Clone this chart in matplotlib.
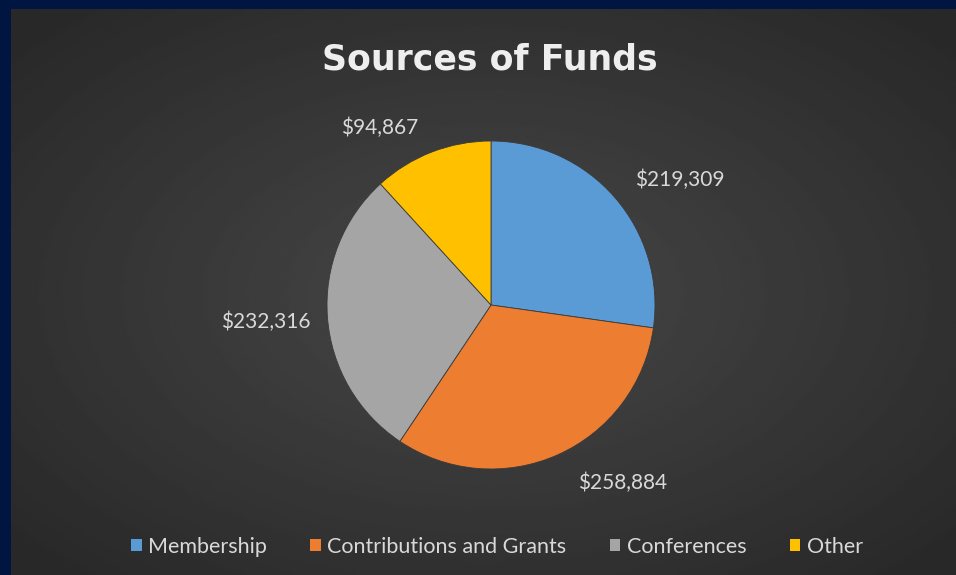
import numpy as np
import matplotlib
matplotlib.use('Agg')
import matplotlib.pyplot as plt

# data
categories = ['Membership', 'Contributions and Grants', 'Conferences', 'Other']
amounts = [219309, 258884, 232316, 94867]
labels = ['$219,309', '$258,884', '$232,316', '$94,867']
colors = ['#5b9bd5', '#ed7d31', '#a5a5a5', '#ffc000']

W, H = 956, 575
fig = plt.figure(figsize=(W / 100, H / 100), dpi=100)
fig.patch.set_facecolor('#001540')

# inner panel with radial gradient
bg = fig.add_axes([11 / W, 0, (W - 11) / W, (H - 9) / H])
yy, xx = np.mgrid[0:200, 0:300]
r = np.sqrt(((xx - 150) / 150.0) ** 2 + ((yy - 100) / 100.0) ** 2)
shade = np.clip(0.28 - 0.09 * r, 0.16, 0.28)
bg.imshow(shade, cmap='gray', vmin=0, vmax=1, aspect='auto', extent=[0, 1, 0, 1])
bg.set_axis_off()

plt.rcParams['font.family'] = ['Lato', 'DejaVu Sans']

fig.text(490 / W, 1 - 59 / H, 'Sources of Funds', ha='center', va='center',
         fontsize=25, fontweight='bold', color='#eeeeee', family='DejaVu Sans')

# pie axes: centre (491, 305), radius 164 px
R = 164
cx, cy = 491, 305
ax = fig.add_axes([(cx - R) / W, (H - cy - R) / H, 2 * R / W, 2 * R / H])
ax.set_facecolor('none')
wedges, texts = ax.pie(amounts, colors=colors, startangle=90, counterclock=False,
                       labels=labels, labeldistance=1.35,
                       wedgeprops=dict(edgecolor='#3a3a3a', linewidth=0.6),
                       textprops=dict(color='#d9d9d9', fontsize=15))
ax.set_xlim(-1, 1)
ax.set_ylim(-1, 1)
ax.set_aspect('equal')
ax.set_axis_off()

# nudge labels to where the best-fit placement puts them
nudges = [(0.13, -0.12), (0.25, 0.15), (-0.03, 0.0), (-0.19, -0.18)]
for t, (dx, dy) in zip(texts, nudges):
    x, y = t.get_position()
    t.set_position((x + dx, y + dy))
    t.set_ha('center')
    t.set_va('center')

leg = fig.legend(wedges, categories, loc='center', bbox_to_anchor=(497 / W, 1 - 547 / H),
                 ncol=4, frameon=False, fontsize=15.5, handlelength=0.5, handleheight=0.5,
                 handletextpad=0.3, columnspacing=2.0, labelcolor='#d9d9d9')
for h in leg.legend_handles:
    h.set_edgecolor('none')

fig.savefig('out.png', dpi=100, facecolor=fig.get_facecolor())
